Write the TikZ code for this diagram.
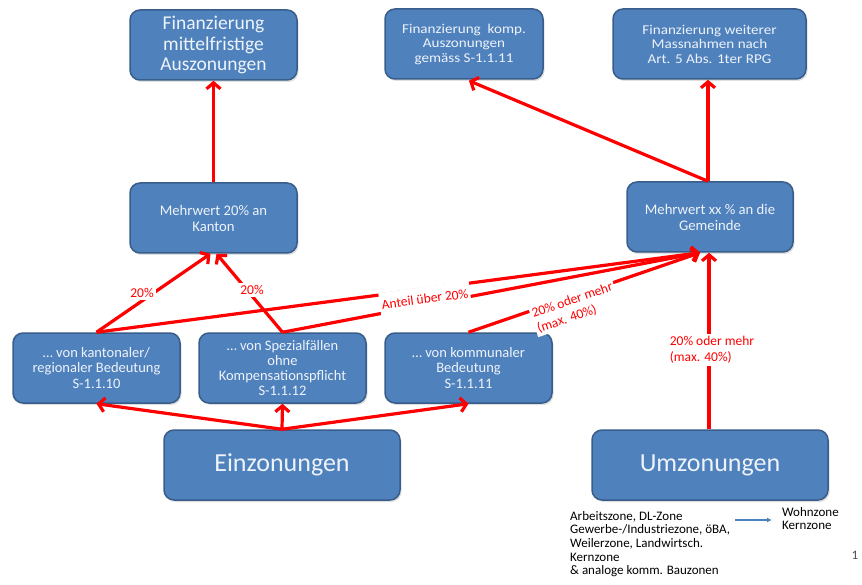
\documentclass[tikz,border=0pt]{standalone}
\usepackage{fontspec}
\setmainfont{Carlito}
\newfontfamily\condfont[FakeStretch=1.12]{Carlito}
\usetikzlibrary{arrows.meta,shadows,calc}
\definecolor{boxblue}{HTML}{4F81BD}
\definecolor{boxline}{HTML}{385D8A}
\definecolor{boxtext}{HTML}{EEF3FA}
\definecolor{legblue}{HTML}{4F81BD}
\begin{document}
\begin{tikzpicture}[x=1pt,y=-1pt,
  box/.style={draw=boxline,line width=1.5pt,fill=boxblue,rounded corners=10pt,
    text=boxtext,align=center,inner sep=2pt,
    drop shadow={shadow xshift=1.5pt,shadow yshift=-2pt,opacity=0.25}},
  arr/.style={draw=red,line width=3.2pt,-{Straight Barb[length=6pt,width=14pt]}},
  lbl/.style={fill=white,text=red,inner sep=2pt,font=\fontsize{13.5}{16}\selectfont}
]
\useasboundingbox (0,0) rectangle (862,585);

% top row
\node[box,minimum width=167pt,minimum height=70pt,font=\fontsize{19.5}{20.5}\selectfont] (f1) at (213.5,45) {Finanzierung\\mittelfristige\\Auszonungen};
\node[box,minimum width=158pt,minimum height=70pt,font=\condfont\fontsize{13.5}{14.5}\selectfont] (f2) at (464,44) {Finanzierung~~komp.\\Auszonungen\\gemäss S-1.1.11};
\node[box,minimum width=193pt,minimum height=70pt,font=\condfont\fontsize{13.5}{14.5}\selectfont] (f3) at (709.5,44) {Finanzierung weiterer\\Massnahmen nach\\Art. 5 Abs. 1ter RPG};

% middle row
\node[box,minimum width=167pt,minimum height=70pt,font=\fontsize{14.7}{16}\selectfont] (m1) at (213.5,218) {Mehrwert 20\% an\\Kanton};
\node[box,minimum width=166pt,minimum height=70pt,font=\fontsize{14.7}{16}\selectfont] (m2) at (710,217) {Mehrwert xx \% an die\\Gemeinde};

% lower row
\node[box,minimum width=167pt,minimum height=70pt,font=\fontsize{14.5}{15.5}\selectfont] (b1) at (96.5,368) {… von kantonaler/\\regionaler Bedeutung\\S-1.1.10};
\node[box,minimum width=167pt,minimum height=70pt,font=\fontsize{14.5}{15}\selectfont] (b2) at (282.5,368) {… von Spezialfällen\\ohne\\Kompensationspflicht\\S-1.1.12};
\node[box,minimum width=167pt,minimum height=70pt,font=\fontsize{14.5}{15.5}\selectfont] (b3) at (468.5,368) {… von kommunaler\\Bedeutung\\S-1.1.11};

% bottom row
\node[box,minimum width=236pt,minimum height=70pt,font=\fontsize{26}{28}\selectfont] (e) at (282,465) {Einzonungen};
\node[box,minimum width=236pt,minimum height=70pt,font=\fontsize{26}{28}\selectfont] (u) at (710,465) {Umzonungen};

% arrows
\draw[arr] (m1.north) -- (m1.north |- f1.south);
\draw[arr] ($(m2.north)+(-2,0)$) -- ($(f2.south)+(5,1)$);
\draw[arr] ($(m2.north)+(-2,0)$) -- ($(m2.north |- f3.south)+(-2,0)$);

\draw[arr] (b1.north) -- ($(m1.south)+(-3,0)$);
\draw[arr] (b2.north) -- ($(m1.south)+(3,0)$);
\draw[arr] (b1.north) -- ($(m2.south)+(-10,0)$);
\draw[arr] (b2.north) -- ($(m2.south)+(-10,0)$);
\draw[arr] (b3.north) -- ($(m2.south)+(-10,0)$);
\draw[arr] ($(u.north)+(-1,0)$) -- ($(u.north |- m2.south)+(-1,0)$);

\draw[arr] (e.north) -- (b1.south);
\draw[arr] (e.north) -- (b2.south);
\draw[arr] (e.north) -- (b3.south);

% labels
\node[lbl] (l1) at (142,293) {20\%};
\node[lbl] (l2) at (252,290) {20\%};
\node[lbl,rotate=7.6,minimum height=24pt] (l3) at (425,299) {Anteil über 20\%};
\node[lbl,rotate=19,align=left] (l4) at (575,308) {20\% oder mehr\\(max. 40\%)};
\node[lbl,align=left] (l5) at (712,350) {20\% oder mehr\\(max. 40\%)};

% legend
\node[anchor=north west,align=left,inner sep=0pt,font=\fontsize{13}{13.6}\selectfont] (zl) at (570,511) {Arbeitszone, DL-Zone\\Gewerbe-/Industriezone, öBA,\\Weilerzone, Landwirtsch.\\Kernzone\\\& analoge komm. Bauzonen};
\node[anchor=north west,align=left,inner sep=0pt,font=\fontsize{13}{13.6}\selectfont] (zr) at (782,507) {Wohnzone\\Kernzone};
\coordinate (a1) at (735,520);
\coordinate (a2) at (772,520);
\draw[legblue,line width=1.6pt,-{Latex[length=5pt,width=5pt]}] (a1) -- (a2);
\node[font=\fontsize{13}{14}\selectfont,text=black!70] (pg) at (855,555) {1};
\end{tikzpicture}
\end{document}
